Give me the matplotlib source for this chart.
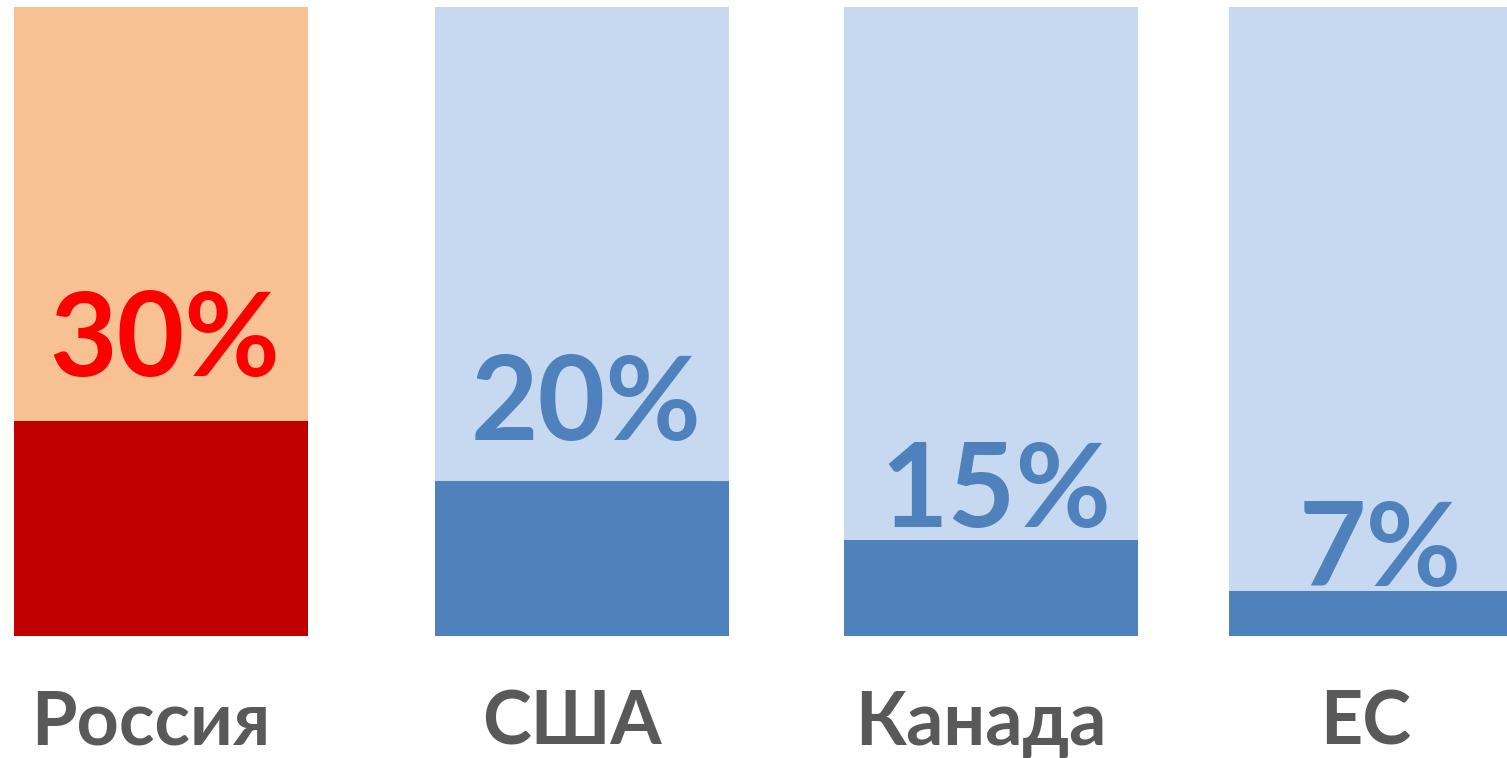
import matplotlib.pyplot as plt

# data
countries = ["Россия", "США", "Канада", "ЕС"]
share_labels = ["30%", "20%", "15%", "7%"]
fill_height = [34.2, 24.6, 15.2, 7.2]   # dark part of each bar, % of full bar height

# layout / style
x_pos = [0, 1.04, 2.05, 3.0]
label_y = [41.3, 31.2, 17.3, 7.9]
light = ["#F8C193", "#C6D9F0", "#C6D9F0", "#C6D9F0"]
dark = ["#C00000", "#4F81BD", "#4F81BD", "#4F81BD"]
text_col = ["#FF0000", "#4F81BD", "#4F81BD", "#4F81BD"]
font = ["Lato", "Open Sans", "DejaVu Sans"]

fig = plt.figure(figsize=(15.07, 7.58), dpi=100)
ax = fig.add_axes([0, 0.161, 1, 0.830])

# full background bars, then the filled part
ax.bar(x_pos, [100] * 4, width=0.726, color=light, linewidth=0)
ax.bar(x_pos, fill_height, width=0.726, color=dark, linewidth=0)

for i in range(len(countries)):
    ax.text(x_pos[i] + 0.01, label_y[i], share_labels[i], ha="center", va="baseline",
            fontsize=84, fontweight="bold", color=text_col[i], family=font)
    ax.text(x_pos[i] - 0.025, -17.3, countries[i], ha="center", va="baseline",
            fontsize=53, fontweight="bold", color="#595959", family=font,
            clip_on=False)

ax.set_xlim(-0.3975, 3.323)
ax.set_ylim(0, 100)
ax.axis("off")

fig.savefig("out.png", dpi=100)
